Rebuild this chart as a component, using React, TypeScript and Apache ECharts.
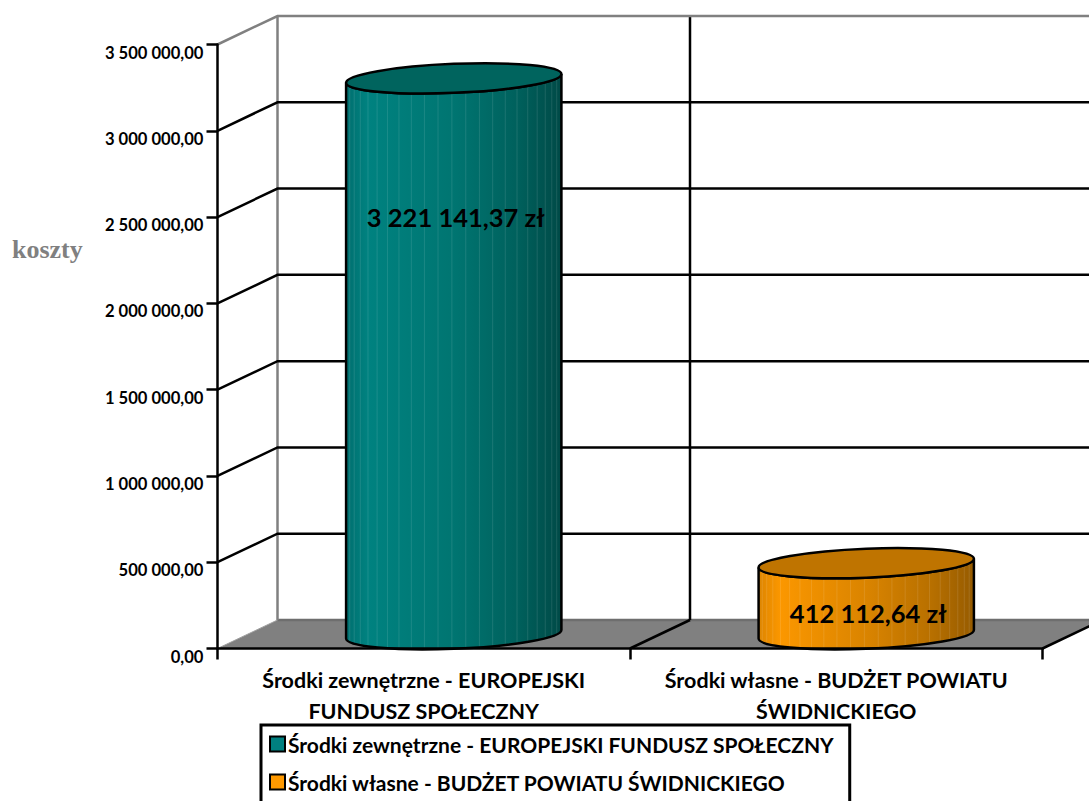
import React, { useEffect, useRef } from "react";
import * as echarts from "echarts";

const categories = ["Środki zewnętrzne - EUROPEJSKI\nFUNDUSZ SPOŁECZNY", "Środki własne - BUDŻET POWIATU\nŚWIDNICKIEGO"];
const seriesNames = ["Środki zewnętrzne - EUROPEJSKI FUNDUSZ SPOŁECZNY", "Środki własne - BUDŻET POWIATU ŚWIDNICKIEGO"];
const seriesColors = ["#008080", "#ff9900"];
const zewnetrzne = [3221141.37];
const wlasne = [412112.64];
const valueTicks = [0, 500000, 1000000, 1500000, 2000000, 2500000, 3000000, 3500000];

const DX = 60;
const DY = 28.5;
const FONT = "Lato";

const fmt = (v: number) => {
  const [a, b] = v.toFixed(2).split(".");
  return a.replace(/\B(?=(\d{3})+$)/g, " ") + "," + b;
};

function ellipsePaths(cx: number, cy: number, r: number, ry: number, shear: number) {
  const K = 0.5523;
  const P = (x: number, y: number) => `${cx + x} ${cy + y + shear * x}`;
  const lower = `C${P(-r, K * ry)} ${P(-K * r, ry)} ${P(0, ry)} C${P(K * r, ry)} ${P(r, K * ry)} ${P(r, 0)}`;
  const upper = `C${P(r, -K * ry)} ${P(K * r, -ry)} ${P(0, -ry)} C${P(-K * r, -ry)} ${P(-r, -K * ry)} ${P(-r, 0)}`;
  return { P, lower, upper };
}

function cylinder(opts: { stops: [number, string][]; top: string; labelDy: number }) {
  return (params: any, api: any) => {
    const band = api.size([1, 0])[0];
    const [px, py] = api.coord([api.value(0), api.value(1)]);
    const [, y0] = api.coord([api.value(0), 0]);
    const cx = px + DX / 2;
    const topY = py - DY / 2;
    const baseY = y0 - DY / 2;
    const r = band * 0.261;
    const ry = 14.5;
    const shear = -0.04;
    const e = ellipsePaths(cx, topY, r, ry, shear);
    const f = ellipsePaths(cx, baseY, r, ry, shear);
    const topLowerRev = (() => {
      const K = 0.5523;
      const P = e.P;
      return `C${P(r, K * ry)} ${P(K * r, ry)} ${P(0, ry)} C${P(-K * r, ry)} ${P(-r, K * ry)} ${P(-r, 0)}`;
    })();
    const body = `M${e.P(-r, 0)} L${f.P(-r, 0)} ${f.lower} L${e.P(r, 0)} ${topLowerRev} Z`;
    const children: any[] = [
      {
        type: "path",
        shape: { pathData: body },
        style: {
          fill: {
            type: "linear", x: 0, y: 0, x2: 1, y2: 0,
            colorStops: opts.stops.map(([offset, color]) => ({ offset, color })),
          },
          stroke: "none",
        },
      },
    ];
    for (let deg = 15; deg < 168; deg += 7.4) {
      const c = Math.cos((deg * Math.PI) / 180);
      const s = Math.sin((deg * Math.PI) / 180);
      const dx = -r * c;
      children.push({
        type: "line",
        shape: {
          x1: cx + dx, y1: topY + shear * dx + ry * s,
          x2: cx + dx, y2: baseY + shear * dx + ry * s,
        },
        style: { stroke: "rgba(255,255,255,0.11)", lineWidth: 1 },
      });
    }
    children.push(
      { type: "path", shape: { pathData: body }, style: { fill: "none", stroke: "#000", lineWidth: 2.5 } },
      {
        type: "path",
        shape: { pathData: `M${e.P(-r, 0)} ${e.lower} ${e.upper} Z` },
        style: { fill: opts.top, stroke: "#000", lineWidth: 2.5 },
      },
      {
        type: "text",
        style: {
          x: cx + 2,
          y: topY + opts.labelDy,
          text: fmt(api.value(1)) + " zł",
          fill: "#000",
          font: `bold 25.5px ${FONT}`,
          align: "center",
          verticalAlign: "middle",
        },
      }
    );
    return { type: "group", children };
  };
}

function wallItem(params: any, api: any) {
  const v = api.value(1);
  const cs = params.coordSys;
  const [, y] = api.coord([0, v]);
  const x0 = cs.x;
  const x1 = cs.x + cs.width;
  const band = cs.width / categories.length;
  const grey = "#808080";
  const isEdge = v === valueTicks[0] || v === valueTicks[valueTicks.length - 1];
  const children: any[] = [];
  if (v === valueTicks[0]) {
    children.push(
      {
        type: "polygon",
        shape: { points: [[x0, y], [x0 + DX, y - DY], [x1 + DX, y - DY], [x1, y]] },
        style: { fill: grey, stroke: "none" },
      },
      {
        type: "line",
        shape: { x1: x0 + DX, y1: y - DY, x2: x1 + DX, y2: y - DY },
        style: { stroke: "#6e6e6e", lineWidth: 2.5 },
      },
      {
        type: "line",
        shape: { x1: x0, y1: y, x2: x0 + DX, y2: y - DY },
        style: { stroke: "#a0a0a0", lineWidth: 1 },
      },
      {
        type: "line",
        shape: { x1: x0 + DX, y1: y - DY, x2: x0 + DX, y2: cs.y - DY },
        style: { stroke: grey, lineWidth: 2.5 },
      }
    );
    for (let i = 1; i <= categories.length; i++) {
      children.push(
        {
          type: "line",
          shape: { x1: x0 + band * i, y1: y, x2: x0 + band * i + DX, y2: y - DY },
          style: { stroke: "#000", lineWidth: 2.5 },
        },
        {
          type: "line",
          shape: { x1: x0 + band * i + DX, y1: y - DY, x2: x0 + band * i + DX, y2: cs.y - DY },
          style: { stroke: "#000", lineWidth: 2.5 },
        }
      );
    }
  } else {
    const stroke = isEdge ? grey : "#000";
    children.push({
      type: "polyline",
      shape: { points: [[x0, y], [x0 + DX, y - DY], [x1 + DX, y - DY]] },
      style: { stroke, lineWidth: 2.5, fill: "none" },
    });
  }
  return { type: "group", children };
}

export default function App() {
  const ref = useRef<HTMLDivElement>(null);
  useEffect(() => {
    document.body.style.margin = "0";
    const chart = echarts.init(ref.current!, null, { renderer: "svg" });
    chart.setOption({
      animation: false,
      backgroundColor: "#fff",
      title: {
        text: "koszty",
        left: 12,
        top: 236,
        padding: 0,
        textStyle: { fontFamily: "Liberation Serif", fontWeight: "bold", fontSize: 26, color: "#808080" },
      },
      grid: { left: 217.5, top: 44.5, width: 825, height: 604 },
      xAxis: {
        type: "category",
        data: categories,
        z: 6,
        axisLine: { lineStyle: { color: "#000", width: 2.5 } },
        axisTick: { show: true, length: 11, lineStyle: { color: "#000", width: 2.5 } },
        axisLabel: { interval: 0, color: "#000", fontFamily: FONT, fontWeight: "bold", fontSize: 21.5, lineHeight: 31, margin: 16 },
      },
      yAxis: {
        type: "value",
        min: 0,
        max: 3500000,
        interval: 500000,
        z: 6,
        splitLine: { show: false },
        axisLine: { show: true, lineStyle: { color: "#000", width: 2.5 } },
        axisTick: { show: true, length: 11, lineStyle: { color: "#000", width: 2.5 } },
        axisLabel: {
          color: "#000", fontFamily: FONT, fontWeight: "bold", fontSize: 16.6, margin: 14,
          verticalAlign: "top",
          lineHeight: 16,
          formatter: (v: number) => fmt(v),
        },
      },
      legend: {
        left: 261,
        top: 725,
        height: 120,
        orient: "vertical",
        align: "left",
        icon: "rect",
        itemWidth: 15,
        itemHeight: 15,
        itemGap: 14,
        padding: [7, 16, 16, 8],
        borderColor: "#000",
        borderWidth: 3,
        backgroundColor: "#fff",
        itemStyle: { borderColor: "#000", borderWidth: 2 },
        textStyle: { color: "#000", fontFamily: FONT, fontWeight: "bold", fontSize: 21, lineHeight: 24, padding: [0, 0, 0, -2] },
        data: seriesNames.map((name, i) => ({
          name,
          itemStyle: { color: seriesColors[i], borderColor: "#000", borderWidth: 2 },
        })),
      },
      series: [
        {
          type: "custom",
          name: "walls",
          z: 1,
          silent: true,
          renderItem: wallItem,
          encode: { x: 0, y: 1 },
          data: valueTicks.map((v) => [0, v]),
        },
        {
          type: "custom",
          name: seriesNames[0],
          z: 3,
          itemStyle: { color: seriesColors[0] },
          renderItem: cylinder({
            stops: [[0, "#006f6f"], [0.1, "#008280"], [0.5, "#007571"], [0.8, "#00605c"], [1, "#004a47"]],
            top: "#00645e",
            labelDy: 139,
          }),
          encode: { x: 0, y: 1 },
          data: zewnetrzne.map((v) => [0, v]),
        },
        {
          type: "custom",
          name: seriesNames[1],
          z: 3,
          itemStyle: { color: seriesColors[1] },
          renderItem: cylinder({
            stops: [[0, "#dd8500"], [0.1, "#fb9700"], [0.5, "#da8400"], [0.8, "#b87000"], [1, "#965b00"]],
            top: "#bf7400",
            labelDy: 50,
          }),
          encode: { x: 0, y: 1 },
          data: wlasne.map((v) => [1, v]),
        },
      ],
    });
    return () => chart.dispose();
  }, []);
  return <div ref={ref} style={{ width: 1089, height: 801, overflow: "hidden" }} />;
}
